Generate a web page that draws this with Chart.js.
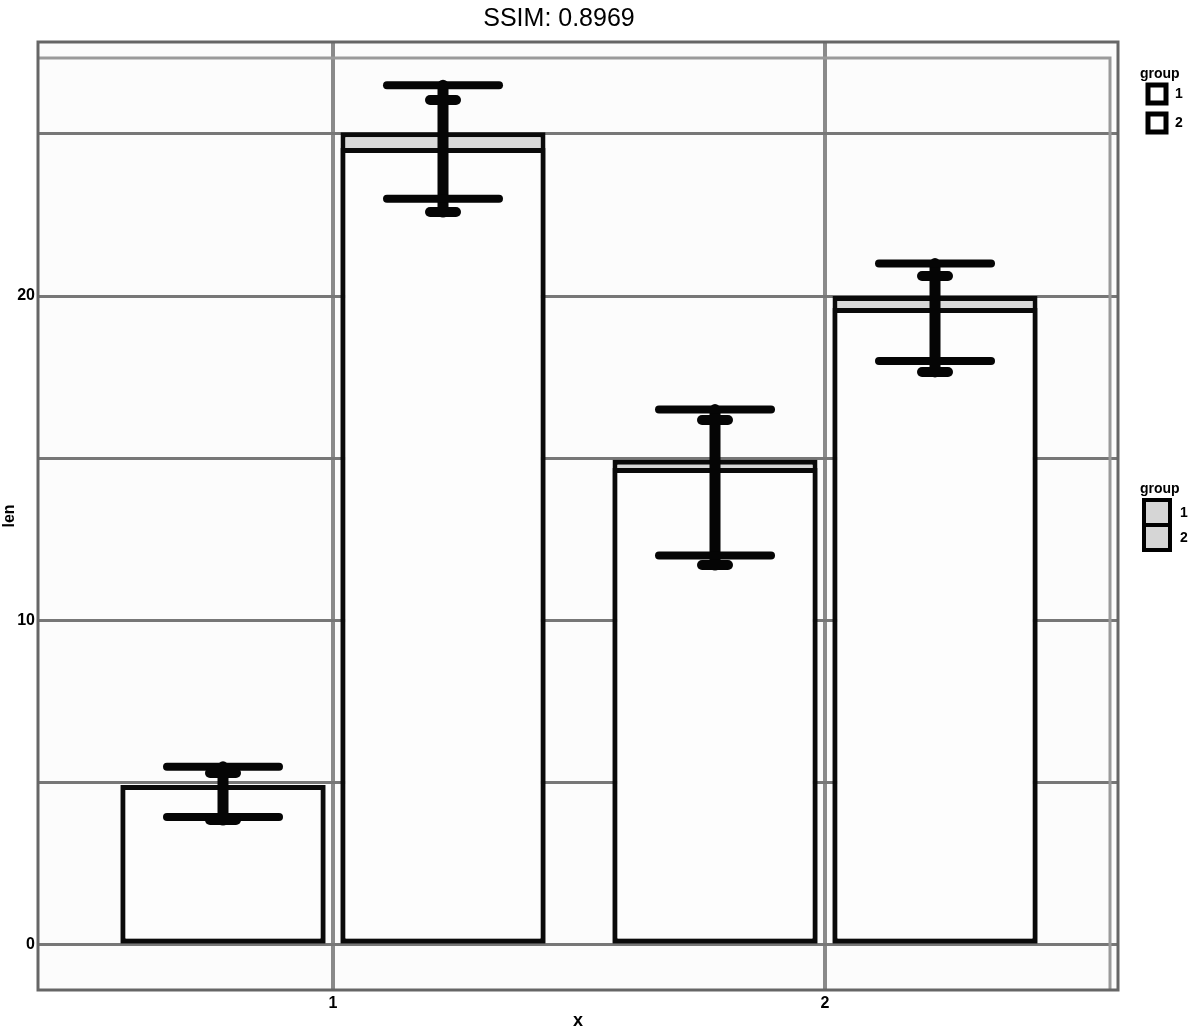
<!DOCTYPE html>
<html><head><meta charset="utf-8">
<script src="https://cdn.jsdelivr.net/npm/chart.js@4/dist/chart.umd.min.js"></script>
<style>html,body{margin:0;padding:0;background:#fff}#wrap{width:1200px;height:1034px;position:relative}</style>
</head><body><div id="wrap"><canvas id="c" width="1200" height="1034"></canvas></div>
<script>
const xPositions = [1, 2];
const xTickLabels = ['1', '2'];
const yTickValues = [0, 5, 10, 15, 20, 25];
const yTickLabels = {0: '0', 10: '10', 20: '20'};
const groups = ['1', '2'];
const group1Values = [4.93, 14.95];
const group2Values = [25.05, 20.0];
const group1InnerValues = [4.93, 14.7];
const group2InnerValues = [24.56, 19.63];
const group1Low = [3.94, 12.0];
const group1High = [5.49, 16.5];
const group2Low = [23.0, 18.0];
const group2High = [26.5, 21.0];
const group1LowB = [3.85, 11.71];
const group1HighB = [5.30, 16.18];
const group2LowB = [22.59, 17.66];
const group2HighB = [26.04, 20.62];

const ds = (label, vals, stack, bg) => ({
  label, stack,
  data: xPositions.map((x, i) => ({x, y: vals[i]})),
  backgroundColor: bg, borderColor: '#0a0a0a', borderWidth: 5, borderSkipped: false,
  categoryPercentage: 0.8943, barPercentage: 0.932
});

const errorBars = {
  id: 'errorBars',
  afterDatasetsDraw(chart) {
    const y = chart.scales.y;
    const ctx = chart.ctx;
    const sets = [
      {meta: chart.getDatasetMeta(1), lo: group1Low, hi: group1High, loB: group1LowB, hiB: group1HighB},
      {meta: chart.getDatasetMeta(3), lo: group2Low, hi: group2High, loB: group2LowB, hiB: group2HighB}
    ];
    ctx.save();
    ctx.strokeStyle = '#050505';
    ctx.lineCap = 'round';
    for (const s of sets) {
      s.meta.data.forEach((bar, i) => {
        const cx = bar.x;
        const yh = y.getPixelForValue(s.hi[i]), yl = y.getPixelForValue(s.lo[i]);
        const yhB = y.getPixelForValue(s.hiB[i]), ylB = y.getPixelForValue(s.loB[i]);
        ctx.lineWidth = 11;
        ctx.beginPath(); ctx.moveTo(cx, Math.min(yh, yhB)); ctx.lineTo(cx, Math.max(yl, ylB)); ctx.stroke();
        ctx.lineWidth = 8;
        ctx.beginPath(); ctx.moveTo(cx - 56, yh); ctx.lineTo(cx + 56, yh); ctx.stroke();
        ctx.beginPath(); ctx.moveTo(cx - 56, yl); ctx.lineTo(cx + 56, yl); ctx.stroke();
        ctx.lineWidth = 10;
        ctx.beginPath(); ctx.moveTo(cx - 13, yhB); ctx.lineTo(cx + 13, yhB); ctx.stroke();
        ctx.beginPath(); ctx.moveTo(cx - 13, ylB); ctx.lineTo(cx + 13, ylB); ctx.stroke();
      });
    }
    ctx.restore();
  }
};

const panel = {
  id: 'panel',
  beforeDraw(chart) {
    const {ctx, chartArea: a} = chart;
    ctx.save();
    ctx.fillStyle = '#fcfcfc';
    ctx.fillRect(a.left, a.top, a.right - a.left, a.bottom - a.top);
    ctx.restore();
  },
  beforeDatasetsDraw(chart) {
    const {ctx, chartArea: a} = chart;
    ctx.save();
    ctx.strokeStyle = '#9a9a9a';
    ctx.lineWidth = 3;
    ctx.beginPath();
    ctx.moveTo(a.left, a.top + 16); ctx.lineTo(a.right - 8, a.top + 16); ctx.lineTo(a.right - 8, a.bottom);
    ctx.stroke();
    ctx.strokeStyle = '#666';
    ctx.lineWidth = 3;
    ctx.strokeRect(a.left, a.top, a.right - a.left, a.bottom - a.top);
    ctx.restore();
  }
};

const legends = {
  id: 'legends',
  afterDraw(chart) {
    const {ctx, chartArea: a} = chart;
    const x0 = a.right + 22;
    ctx.save();
    ctx.fillStyle = '#000';
    ctx.textBaseline = 'middle';
    ctx.font = 'bold 14px "Liberation Sans", Arial, sans-serif';
    ctx.fillText('group', x0, 74);
    ctx.fillText('group', x0, 489);
    ctx.strokeStyle = '#000';
    ctx.lineWidth = 5;
    groups.forEach((g, i) => {
      const ky = 85 + i * 29;
      ctx.fillStyle = '#fff';
      ctx.fillRect(x0 + 8, ky, 18, 18);
      ctx.strokeRect(x0 + 8, ky, 18, 18);
      ctx.fillStyle = '#000';
      ctx.fillText(g, x0 + 35, ky + 9);
    });
    ctx.lineWidth = 4;
    groups.forEach((g, i) => {
      const ky = 500 + i * 25;
      ctx.fillStyle = '#d6d6d6';
      ctx.fillRect(x0 + 4, ky, 26, 25);
      ctx.strokeRect(x0 + 4, ky, 26, 25);
      ctx.fillStyle = '#000';
      ctx.fillText(g, x0 + 40, ky + 13);
    });
    ctx.restore();
  }
};

new Chart(document.getElementById('c'), {
  type: 'bar',
  data: {
    datasets: [
      ds('1', group1InnerValues, 'g1', '#fdfdfd'),
      ds('1', group1Values, 'g1', '#d9d9d9'),
      ds('2', group2InnerValues, 'g2', '#fdfdfd'),
      ds('2', group2Values, 'g2', '#d9d9d9')
    ]
  },
  options: {
    responsive: false,
    animation: false,
    layout: {padding: {left: 0, right: 82, top: 0, bottom: 0}},
    plugins: {
      legend: {display: false},
      tooltip: {enabled: false},
      title: {
        display: true, text: 'SSIM: 0.8969', color: '#000',
        font: {size: 25, family: '"Liberation Sans", Arial, sans-serif', weight: 'normal', lineHeight: 1.2},
        padding: {top: 4, bottom: 8}
      }
    },
    scales: {
      x: {
        type: 'linear', min: 0.4004, max: 2.5955, offset: false,
        grid: {color: '#8a8a8a', lineWidth: 4, drawTicks: false, offset: false},
        border: {display: false},
        afterBuildTicks: s => { s.ticks = xPositions.map(v => ({value: v})); },
        ticks: {callback: (v, i) => xTickLabels[i], color: '#000', autoSkip: false, maxRotation: 0,
          font: {size: 16, weight: 'bold', family: '"Liberation Sans", Arial, sans-serif'}, padding: 4},
        title: {display: true, text: 'x', color: '#000', font: {size: 18, weight: 'bold', family: '"Liberation Sans", Arial, sans-serif'}, padding: {top: 0, bottom: 2}},
        afterFit: s => { s.height = 44; }
      },
      y: {
        type: 'linear', min: -1.39, max: 27.83, stacked: false,
        grid: {color: '#777', lineWidth: 3, drawTicks: false},
        border: {display: false},
        afterBuildTicks: s => { s.ticks = yTickValues.map(v => ({value: v})); },
        ticks: {callback: v => (yTickLabels[v] ?? ''), color: '#000',
          font: {size: 16, weight: 'bold', family: '"Liberation Sans", Arial, sans-serif'}, padding: 3},
        title: {display: true, text: 'len', color: '#000', font: {size: 16, weight: 'bold', family: '"Liberation Sans", Arial, sans-serif'}, padding: {top: 0, bottom: 0}},
        afterFit: s => { s.width = 38; }
      }
    }
  },
  plugins: [panel, errorBars, legends]
});
</script>
</body></html>
